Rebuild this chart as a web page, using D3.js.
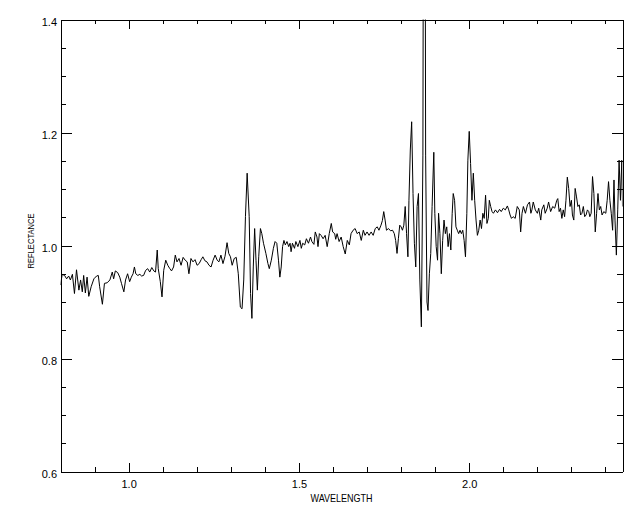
<!DOCTYPE html>
<html><head><meta charset="utf-8">
<script src="https://cdn.jsdelivr.net/npm/d3@7"></script>
<style>html,body{margin:0;padding:0;background:#fff;} svg{display:block;}</style>
</head><body>
<svg id="chart" width="640" height="512"></svg>
<script>
// Spectrum (wavelength, reflectance)
const wavelength = [
0.800,0.805,0.812,0.818,0.824,0.829,0.835,0.841,0.847,0.854,0.859,0.864,0.868,0.873,0.878,0.883,0.890,0.898,0.906,0.911,
0.915,0.923,0.929,0.937,0.945,0.952,0.956,0.961,0.968,0.974,0.979,0.986,0.991,0.997,1.003,1.008,1.013,1.017,1.021,1.027,
1.033,1.038,1.044,1.050,1.056,1.062,1.068,1.074,1.079,1.084,1.087,1.093,1.098,1.103,1.109,1.115,1.121,1.126,1.132,1.137,
1.142,1.148,1.154,1.160,1.166,1.172,1.177,1.183,1.189,1.195,1.201,1.207,1.213,1.218,1.224,1.230,1.236,1.242,1.248,1.254,
1.260,1.265,1.271,1.277,1.283,1.289,1.294,1.299,1.304,1.310,1.316,1.322,1.328,1.333,1.338,1.343,1.348,
1.354,1.358,1.362,1.366,1.370,1.374,1.378,1.382,1.387,1.391,1.396,1.403,1.409,1.413,1.419,1.425,1.430,1.435,1.440,1.444,
1.448,1.452,1.456,1.460,1.465,1.470,1.474,1.477,1.481,1.487,1.491,1.497,1.503,1.507,1.511,1.517,1.522,1.528,1.534,1.538,
1.544,1.548,1.553,1.556,1.560,1.565,1.571,1.577,1.583,1.589,1.595,1.599,1.605,1.608,1.612,1.618,1.624,1.630,1.636,1.642,
1.648,1.653,1.659,1.665,1.671,1.677,1.683,1.689,1.694,1.700,1.706,1.712,1.718,1.724,1.730,1.735,1.741,1.745,1.749,1.753,
1.757,1.763,1.769,1.775,1.780,1.784,1.788,1.792,1.796,1.800,1.804,1.808,1.812,1.816,1.820,1.823,1.827,1.831,1.835,1.839,
1.843,1.847,1.851,1.855,1.8595,1.864,1.868,1.872,1.876,1.879,
1.883,1.887,1.891,1.896,1.899,1.903,1.907,1.910,1.914,1.918,1.922,1.926,1.930,1.934,1.938,1.942,1.946,1.950,1.953,1.957,
1.961,1.965,1.969,1.973,1.977,1.981,1.985,1.989,1.993,1.996,2.000,
2.004,2.008,2.012,2.016,2.020,2.024,2.028,2.032,2.036,2.040,2.044,2.048,2.052,2.056,2.059,2.063,2.067,2.071,2.077,2.083,
2.089,2.094,2.100,2.106,2.112,2.116,2.120,2.124,2.129,2.135,2.141,2.147,2.151,2.155,2.159,2.165,2.171,2.177,2.181,2.184,
2.188,2.194,2.200,2.204,2.210,2.213,2.219,2.223,2.229,2.233,2.239,2.245,2.251,2.257,2.260,2.264,2.268,2.272,2.276,2.280,
2.284,2.288,2.292,2.296,2.300,2.303,2.307,2.311,2.315,2.319,2.323,2.327,2.331,2.335,2.339,2.343,2.347,2.351,2.354,2.358,
2.362,2.366,2.370,2.374,2.378,2.382,2.386,2.390,2.395,2.401,2.405,2.409,2.413,2.417,2.421,2.425,2.428,2.432,2.436,2.440,
2.444,2.448,2.450
];
const reflectance = [
0.930,0.949,0.947,0.941,0.946,0.939,0.949,0.915,0.957,0.921,0.939,0.918,0.947,0.916,0.944,0.910,0.927,0.941,0.946,0.947,
0.927,0.896,0.933,0.934,0.939,0.953,0.941,0.955,0.952,0.944,0.933,0.918,0.939,0.950,0.936,0.944,0.950,0.962,0.950,0.947,
0.949,0.946,0.947,0.956,0.959,0.953,0.961,0.955,0.953,0.992,0.959,0.936,0.909,0.956,0.974,0.965,0.959,0.955,0.962,0.983,
0.971,0.977,0.965,0.979,0.974,0.971,0.950,0.977,0.971,0.975,0.965,0.968,0.975,0.980,0.973,0.971,0.965,0.962,0.974,0.983,
0.974,0.971,0.983,0.968,0.981,1.005,0.986,0.980,0.965,0.977,0.979,0.950,0.891,0.888,0.939,1.051,1.128,
1.051,0.915,0.871,0.962,1.030,0.974,0.921,0.980,1.030,1.021,1.004,0.986,0.968,0.959,0.974,0.995,1.007,1.004,0.974,0.944,
0.962,0.998,1.009,1.001,1.007,0.998,1.004,0.989,1.004,0.995,1.007,0.998,1.009,0.995,1.004,1.001,1.012,1.004,1.015,1.007,
1.002,1.024,1.015,0.998,1.021,1.018,1.012,1.018,0.998,1.021,1.039,1.024,1.021,1.011,1.021,1.007,1.015,0.998,0.985,1.009,
1.001,1.021,1.027,1.030,1.021,1.024,1.009,1.027,1.018,1.024,1.018,1.024,1.018,1.030,1.033,1.027,1.036,1.044,1.060,1.045,
1.027,1.030,1.026,1.027,1.021,1.009,0.986,1.012,1.036,1.033,1.027,1.036,1.069,1.021,0.980,1.080,1.169,1.219,1.092,1.004,
0.962,1.069,1.092,0.939,0.856,1.160,2.500,1.160,0.900,0.885,
0.950,0.986,1.069,1.165,1.057,0.998,0.974,1.057,1.021,0.950,1.009,1.045,1.021,1.033,0.998,1.021,0.992,1.057,1.092,1.080,
1.033,1.027,1.021,1.027,1.021,1.027,1.009,0.980,1.057,1.151,1.202,
1.145,1.080,1.128,1.080,1.045,1.018,1.027,1.045,1.030,1.057,1.048,1.089,1.039,1.048,1.080,1.069,1.060,1.057,1.063,1.058,
1.064,1.060,1.066,1.063,1.070,1.063,1.054,1.048,1.051,1.048,1.069,1.063,1.024,1.057,1.069,1.057,1.072,1.077,1.057,1.063,
1.077,1.063,1.057,1.066,1.045,1.063,1.072,1.057,1.066,1.077,1.060,1.069,1.066,1.080,1.083,1.060,1.066,1.048,1.063,1.051,
1.080,1.121,1.101,1.069,1.080,1.054,1.045,1.101,1.086,1.069,1.072,1.054,1.057,1.069,1.051,1.054,1.063,1.060,1.051,1.057,
1.122,1.092,1.024,1.057,1.092,1.063,1.069,1.054,1.060,1.057,1.080,1.113,1.080,1.057,1.027,1.116,1.045,0.983,1.063,1.151,
1.080,1.151,1.069
];
const xDomain = [0.8, 2.45];
const yDomain = [0.6, 1.4];
const xMajorTicks = [1.0, 1.5, 2.0];
const xMinorTicks = [0.9, 1.1, 1.2, 1.3, 1.4, 1.6, 1.7, 1.8, 1.9, 2.1, 2.2, 2.3, 2.4];
const yMajorTicks = [0.6, 0.8, 1.0, 1.2, 1.4];
const yMinorTicks = [0.65, 0.7, 0.75, 0.85, 0.9, 0.95, 1.05, 1.1, 1.15, 1.25, 1.3, 1.35];
const xTitle = "WAVELENGTH";
const yTitle = "REFLECTANCE";

const data = wavelength.map((w, i) => ({w, r: reflectance[i]}));

const svg = d3.select("#chart");
svg.append("rect").attr("width", 640).attr("height", 512).attr("fill", "#fff");
const L = 60.5, R = 622.5, T = 19.5, B = 471.5;
const x = d3.scaleLinear().domain(xDomain).range([L, R]);
const y = d3.scaleLinear().domain(yDomain).range([B, T]);
const FONT = "'Liberation Sans', Arial, Helvetica, sans-serif";
const fmt = d3.format(".1f");

svg.append("defs").append("clipPath").attr("id", "plotclip")
  .append("rect").attr("x", L).attr("y", T).attr("width", R - L).attr("height", B - T);

svg.append("path")
  .datum(data)
  .attr("clip-path", "url(#plotclip)")
  .attr("fill", "none")
  .attr("stroke", "#000")
  .attr("stroke-width", 1)
  .attr("stroke-linejoin", "miter")
  .attr("d", d3.line().x(d => x(d.w)).y(d => y(d.r)));

function styleAxis(g) {
  g.attr("font-family", FONT).attr("font-size", 11);
  g.selectAll("line").attr("stroke", "#000").attr("shape-rendering", "crispEdges");
  g.selectAll(".domain").attr("stroke", "#000").attr("shape-rendering", "crispEdges");
  g.selectAll("text").attr("fill", "#000");
}

// bottom
const gb = svg.append("g").attr("transform", `translate(0,${B})`)
  .call(d3.axisBottom(x).tickValues(xMajorTicks).tickSize(-9).tickSizeOuter(0).tickFormat(fmt));
gb.selectAll("text").attr("y", 16.5).attr("dy", null);
styleAxis(gb);
const gbm = svg.append("g").attr("transform", `translate(0,${B})`)
  .call(d3.axisBottom(x).tickValues(xMinorTicks).tickSize(-4.5).tickSizeOuter(0).tickFormat(""));
styleAxis(gbm);
// top
const gt = svg.append("g").attr("transform", `translate(0,${T})`)
  .call(d3.axisTop(x).tickValues(xMajorTicks).tickSize(-9).tickSizeOuter(0).tickFormat(""));
styleAxis(gt);
const gtm = svg.append("g").attr("transform", `translate(0,${T})`)
  .call(d3.axisTop(x).tickValues(xMinorTicks).tickSize(-4.5).tickSizeOuter(0).tickFormat(""));
styleAxis(gtm);
// left
const gl = svg.append("g").attr("transform", `translate(${L},0)`)
  .call(d3.axisLeft(y).tickValues(yMajorTicks).tickSize(-11).tickSizeOuter(0).tickPadding(3.5).tickFormat(fmt));
gl.selectAll("text").attr("dy", null).attr("y", 6);
styleAxis(gl);
const glm = svg.append("g").attr("transform", `translate(${L},0)`)
  .call(d3.axisLeft(y).tickValues(yMinorTicks).tickSize(-5.6).tickSizeOuter(0).tickFormat(""));
styleAxis(glm);
// right
const gr = svg.append("g").attr("transform", `translate(${R},0)`)
  .call(d3.axisRight(y).tickValues(yMajorTicks).tickSize(-11).tickSizeOuter(0).tickFormat(""));
styleAxis(gr);
const grm = svg.append("g").attr("transform", `translate(${R},0)`)
  .call(d3.axisRight(y).tickValues(yMinorTicks).tickSize(-5.6).tickSizeOuter(0).tickFormat(""));
styleAxis(grm);

svg.append("text")
  .attr("x", (L + R) / 2).attr("y", 502)
  .attr("text-anchor", "middle")
  .attr("font-family", FONT).attr("font-size", 11)
  .attr("textLength", 62).attr("lengthAdjust", "spacingAndGlyphs")
  .text(xTitle);

svg.append("text")
  .attr("transform", "translate(33.5,241) rotate(-90)")
  .attr("text-anchor", "middle")
  .attr("font-family", FONT).attr("font-size", 9.5)
  .attr("textLength", 55).attr("lengthAdjust", "spacingAndGlyphs")
  .text(yTitle);
</script>
</body></html>
